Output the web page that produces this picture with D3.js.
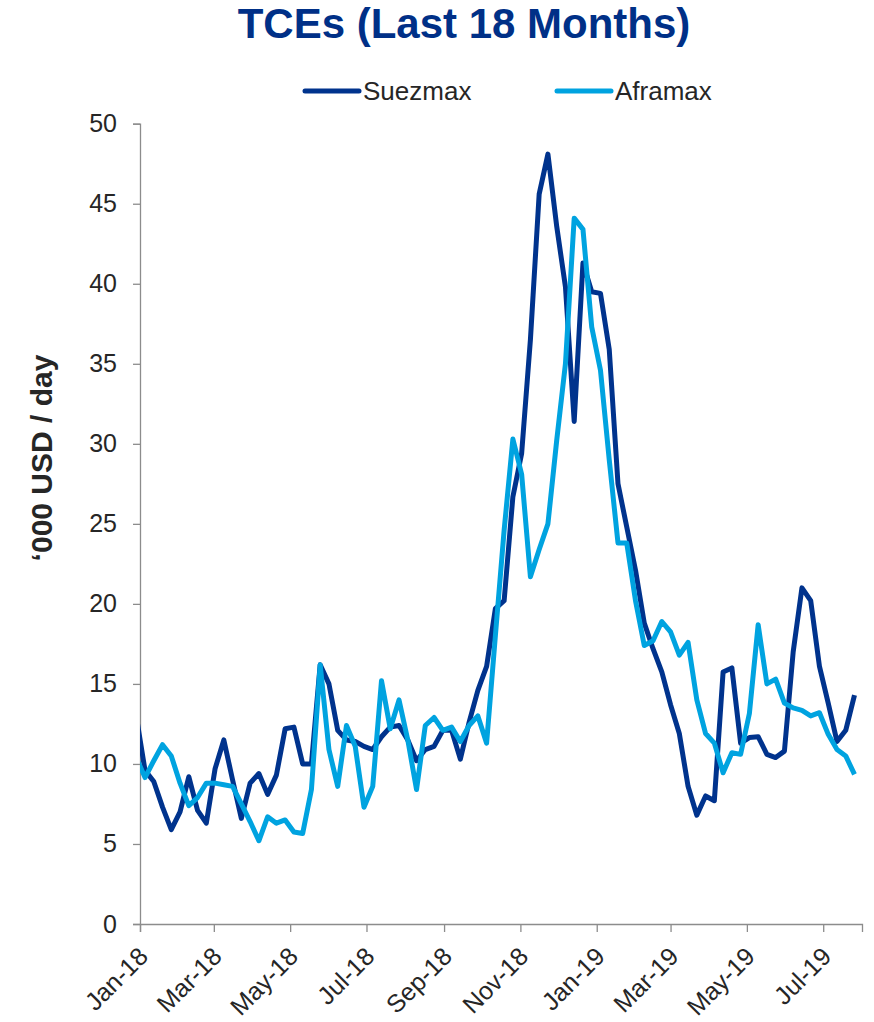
<!DOCTYPE html>
<html>
<head>
<meta charset="utf-8">
<script src="https://cdn.jsdelivr.net/npm/d3@7"></script>
<style>
  html, body { margin: 0; padding: 0; background: #ffffff; }
  svg { display: block; font-family: "Liberation Sans", Arial, sans-serif; }
</style>
</head>
<body>
<svg id="chart" width="874" height="1022"></svg>
<script>
// Weekly observations (Fridays), first one falls just before the axis start
const firstWeek = "2017-12-29";

// '000 USD / day
const suezmax = [
  13.0, 9.6, 8.9, 7.3, 5.9, 7.0, 9.2, 7.1, 6.3, 9.7,
  11.5, 9.0, 6.6, 8.8, 9.4, 8.1, 9.3, 12.2, 12.3, 10.0,
  10.0, 16.2, 15.0, 12.1, 11.5, 11.4, 11.1, 10.9, 11.7, 12.3,
  12.4, 11.5, 10.2, 10.9, 11.1, 12.1, 12.1, 10.3, 12.6, 14.6,
  16.1, 19.7, 20.2, 26.7, 29.4, 36.5, 45.6, 48.1, 43.6, 39.8,
  31.4, 41.3, 39.5, 39.4, 35.9, 27.5, 24.8, 22.1, 18.8, 17.2,
  15.75, 13.7, 11.9, 8.6, 6.8, 8.0, 7.7, 15.75, 16.0, 11.3,
  11.65, 11.7, 10.6, 10.4, 10.8, 17.0, 21.0, 20.2, 16.1, 13.8,
  11.4, 12.1, 14.3
];

const aframax = [
  10.4, 9.15, 10.2, 11.2, 10.5, 8.8, 7.4, 7.9, 8.8, 8.8,
  8.7, 8.6, 7.5, 6.4, 5.2, 6.7, 6.3, 6.5, 5.75, 5.65,
  8.4, 16.2, 10.9, 8.6, 12.4, 11.1, 7.3, 8.6, 15.2, 12.2,
  14.0, 11.5, 8.4, 12.4, 12.9, 12.1, 12.3, 11.4, 12.4, 13.0,
  11.3, 18.0, 24.6, 30.3, 28.1, 21.7, 23.4, 25.0, 30.2, 35.0,
  44.1, 43.4, 37.3, 34.6, 29.0, 23.8, 23.8, 20.2, 17.4, 17.7,
  18.9, 18.25, 16.8, 17.6, 14.0, 11.9, 11.3, 9.45, 10.7, 10.6,
  13.15, 18.7, 15.0, 15.3, 13.8, 13.5, 13.35, 13.0, 13.2, 11.85,
  10.9, 10.5, 9.35
];

const seriesNames = ["Suezmax", "Aframax"];
const seriesColors = ["#00338D", "#00A3E0"];

const xDomain = ["2018-01-01", "2019-08-01"];
const xTickDates = ["2018-01-01", "2018-03-01", "2018-05-01", "2018-07-01", "2018-09-01",
                    "2018-11-01", "2019-01-01", "2019-03-01", "2019-05-01", "2019-07-01"];
const yTicks = [0, 5, 10, 15, 20, 25, 30, 35, 40, 45, 50];

const titleText = "TCEs (Last 18 Months)";
const yTitle = "\u2018000 USD / day";

// ---- layout ----
const svg = d3.select("#chart");
const plot = { left: 140, right: 862, top: 123.7, bottom: 924 };
const textColor = "#262626";
const axisColor = "#8c8c8c";

const parse = d3.utcParse("%Y-%m-%d");
const start = parse(firstWeek);
const dates = suezmax.map((_, i) => d3.utcDay.offset(start, 7 * i));

const x = d3.scaleUtc()
  .domain(xDomain.map(parse))
  .range([plot.left, plot.right]);

const y = d3.scaleLinear()
  .domain([0, 50])
  .range([plot.bottom, plot.top]);

// title
svg.append("text")
  .attr("x", 464).attr("y", 37.5)
  .attr("text-anchor", "middle")
  .attr("font-size", 42).attr("font-weight", "bold")
  .attr("fill", "#003087")
  .text(titleText);

// legend
const legendPos = [{ x: 305, tx: 363 }, { x: 557, tx: 615 }];
seriesNames.forEach((name, i) => {
  const g = svg.append("g");
  g.append("line")
    .attr("x1", legendPos[i].x).attr("x2", legendPos[i].x + 54)
    .attr("y1", 91).attr("y2", 91)
    .attr("stroke", seriesColors[i]).attr("stroke-width", 5)
    .attr("stroke-linecap", "round");
  g.append("text")
    .attr("x", legendPos[i].tx).attr("y", 100)
    .attr("font-size", 26).attr("fill", textColor)
    .text(name);
});

// y axis
const yAxis = d3.axisLeft(y).tickValues(yTicks).tickSize(7).tickPadding(16).tickFormat(d3.format("d"));
const gy = svg.append("g").attr("transform", `translate(${plot.left},0)`).call(yAxis);
gy.select(".domain").attr("stroke", axisColor).attr("stroke-width", 1.3);
gy.selectAll(".tick line").attr("stroke", axisColor).attr("stroke-width", 1.3);
gy.selectAll(".tick text")
  .attr("font-size", 25).attr("fill", textColor)
  .attr("font-family", "Liberation Sans, Arial, sans-serif");

// x axis
const xAxis = d3.axisBottom(x)
  .tickValues(xTickDates.map(parse))
  .tickSize(8)
  .tickFormat(d3.utcFormat("%b-%y"));
const gx = svg.append("g").attr("transform", `translate(0,${plot.bottom})`).call(xAxis);
gx.select(".domain").attr("stroke", axisColor).attr("stroke-width", 1.3);
gx.selectAll(".tick line").attr("stroke", axisColor).attr("stroke-width", 1.3);
gx.selectAll(".tick text")
  .attr("font-size", 25).attr("fill", textColor)
  .attr("font-family", "Liberation Sans, Arial, sans-serif")
  .attr("text-anchor", "end")
  .attr("dy", null).attr("y", null)
  .attr("transform", "translate(9,34) rotate(-45)");

// y axis title
svg.append("text")
  .attr("transform", "translate(52,458) rotate(-90)")
  .attr("text-anchor", "middle")
  .attr("font-size", 30).attr("font-weight", "bold")
  .attr("fill", textColor)
  .text(yTitle);

// lines, clipped to the plotting area
svg.append("clipPath").attr("id", "plotClip")
  .append("rect")
  .attr("x", plot.left).attr("y", 0)
  .attr("width", plot.right - plot.left).attr("height", plot.bottom + 10);

const line = d3.line()
  .x((d, i) => x(dates[i]))
  .y(d => y(d));

const lines = svg.append("g").attr("clip-path", "url(#plotClip)");
[suezmax, aframax].forEach((vals, i) => {
  lines.append("path")
    .datum(vals)
    .attr("fill", "none")
    .attr("stroke", seriesColors[i])
    .attr("stroke-width", 5)
    .attr("stroke-linejoin", "round")
    .attr("d", line);
});
</script>
</body>
</html>
